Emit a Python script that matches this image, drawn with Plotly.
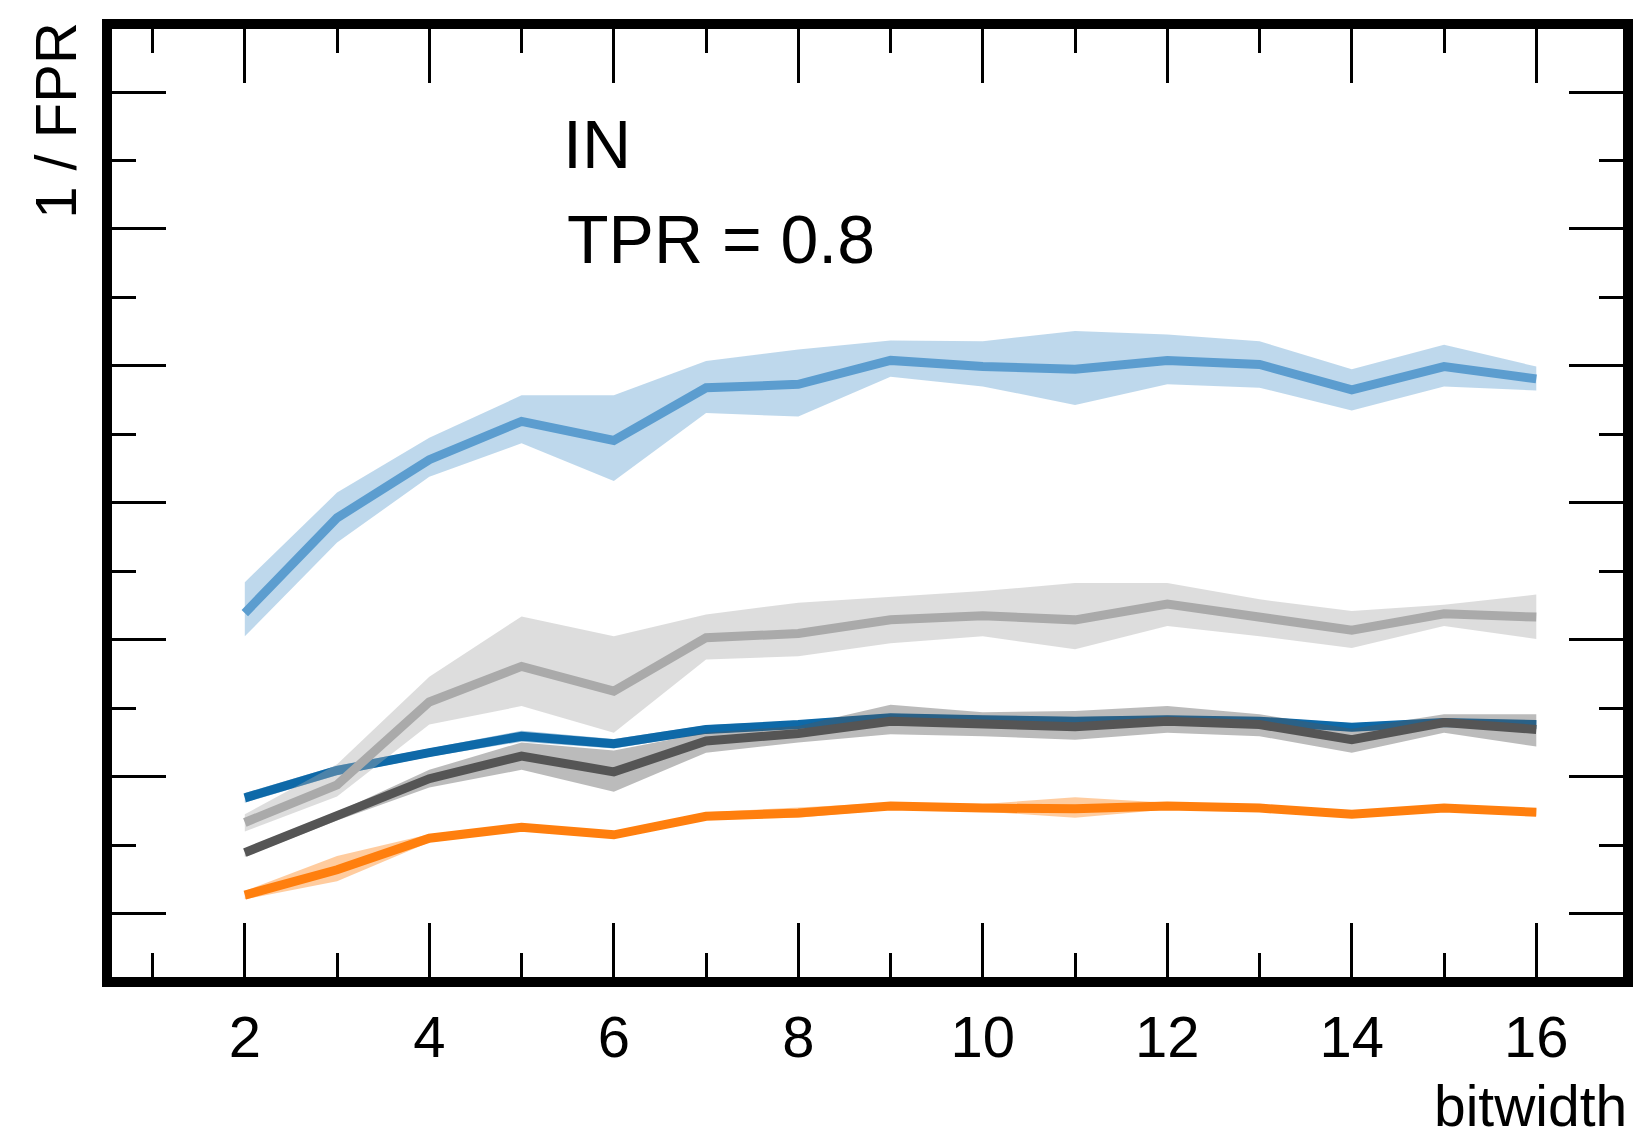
import plotly.graph_objects as go

bitwidth = list(range(2, 17))

light_blue_mean = [5.39, 6.78, 7.63, 8.19, 7.91, 8.68, 8.73, 9.08, 8.99, 8.95, 9.08, 9.02, 8.65, 8.99, 8.81]
light_blue_hi = [5.84, 7.15, 7.95, 8.57, 8.57, 9.07, 9.24, 9.37, 9.36, 9.51, 9.46, 9.36, 8.95, 9.31, 8.99]
light_blue_lo = [5.05, 6.42, 7.38, 7.87, 7.32, 8.31, 8.26, 8.84, 8.70, 8.43, 8.73, 8.68, 8.35, 8.70, 8.64]

light_gray_mean = [2.33, 2.88, 4.09, 4.61, 4.25, 5.03, 5.09, 5.29, 5.35, 5.29, 5.52, 5.33, 5.14, 5.38, 5.33]
light_gray_hi = [2.45, 3.18, 4.46, 5.34, 5.05, 5.37, 5.54, 5.62, 5.71, 5.83, 5.83, 5.59, 5.42, 5.51, 5.66]
light_gray_lo = [2.20, 2.71, 3.76, 4.03, 3.64, 4.71, 4.76, 4.95, 5.05, 4.86, 5.20, 5.05, 4.88, 5.20, 5.01]

dark_blue_mean = [2.69, 3.09, 3.35, 3.59, 3.48, 3.69, 3.76, 3.86, 3.83, 3.81, 3.83, 3.81, 3.72, 3.79, 3.76]
dark_blue_hi = [2.76, 3.16, 3.41, 3.67, 3.55, 3.75, 3.82, 3.92, 3.89, 3.87, 3.89, 3.87, 3.78, 3.85, 3.82]
dark_blue_lo = [2.62, 3.02, 3.29, 3.51, 3.41, 3.63, 3.70, 3.80, 3.77, 3.75, 3.77, 3.75, 3.66, 3.73, 3.70]

dark_gray_mean = [1.89, 2.42, 2.97, 3.30, 3.07, 3.52, 3.63, 3.81, 3.76, 3.73, 3.81, 3.76, 3.54, 3.79, 3.69]
dark_gray_hi = [1.95, 2.48, 3.10, 3.50, 3.38, 3.64, 3.74, 4.05, 3.94, 3.96, 4.03, 3.91, 3.70, 3.91, 3.91]
dark_gray_lo = [1.83, 2.36, 2.84, 3.10, 2.78, 3.35, 3.50, 3.62, 3.59, 3.54, 3.64, 3.59, 3.35, 3.64, 3.44]

orange_mean = [1.27, 1.64, 2.10, 2.26, 2.15, 2.42, 2.47, 2.57, 2.54, 2.53, 2.57, 2.54, 2.45, 2.54, 2.48]
orange_hi = [1.33, 1.84, 2.16, 2.31, 2.20, 2.48, 2.55, 2.62, 2.60, 2.70, 2.62, 2.59, 2.50, 2.59, 2.53]
orange_lo = [1.21, 1.47, 2.04, 2.21, 2.10, 2.37, 2.40, 2.52, 2.49, 2.40, 2.52, 2.49, 2.40, 2.49, 2.43]

series = [
    (orange_mean, orange_hi, orange_lo, (255, 127, 14)),
    (dark_blue_mean, dark_blue_hi, dark_blue_lo, (14, 105, 168)),
    (light_blue_mean, light_blue_hi, light_blue_lo, (92, 157, 207)),
    (light_gray_mean, light_gray_hi, light_gray_lo, (170, 170, 170)),
    (dark_gray_mean, dark_gray_hi, dark_gray_lo, (85, 85, 85)),
]

fig = go.Figure()
for mean, hi, lo, (r, g, b) in series:
    fig.add_trace(go.Scatter(
        x=bitwidth + bitwidth[::-1], y=hi + lo[::-1],
        fill="toself", fillcolor=f"rgba({r},{g},{b},0.4)",
        line=dict(width=0), mode="lines", hoverinfo="skip", showlegend=False))
    fig.add_trace(go.Scatter(
        x=bitwidth, y=mean, mode="lines",
        line=dict(color=f"rgb({r},{g},{b})", width=9), showlegend=False))

FONT = "Liberation Sans, Arial, Helvetica, sans-serif"

fig.update_layout(
    width=1643, height=1141,
    margin=dict(l=112, r=10, t=29, b=164),
    paper_bgcolor="white", plot_bgcolor="white",
    font=dict(family=FONT, size=58, color="black"),
    showlegend=False,
    xaxis=dict(
        range=[0.5602, 16.940], tick0=0, dtick=2,
        showgrid=False, zeroline=False,
        showline=True, linewidth=10, linecolor="black", mirror="allticks",
        ticks="inside", ticklen=54, tickwidth=3, tickcolor="black",
        tickfont=dict(family=FONT, size=58, color="black"),
        minor=dict(ticks="inside", ticklen=24, tickwidth=3, tickcolor="black", dtick=1, tick0=0, showgrid=False),
    ),
    yaxis=dict(
        range=[0.073, 13.921], tick0=1, dtick=2,
        showgrid=False, zeroline=False, showticklabels=False,
        showline=True, linewidth=10, linecolor="black", mirror="allticks",
        ticks="inside", ticklen=54, tickwidth=3, tickcolor="black",
        minor=dict(ticks="inside", ticklen=24, tickwidth=3, tickcolor="black", dtick=1, tick0=0, showgrid=False),
    ),
    annotations=[
        dict(text="IN", xref="paper", yref="paper", x=0.2972, y=0.8785,
             xanchor="left", yanchor="middle", showarrow=False,
             font=dict(family=FONT, size=68, color="black")),
        dict(text="TPR = 0.8", xref="paper", yref="paper", x=0.2998, y=0.7783,
             xanchor="left", yanchor="middle", showarrow=False,
             font=dict(family=FONT, size=68, color="black")),
        dict(text="bitwidth", xref="paper", yref="paper", x=1.0039, y=-0.1720,
             xanchor="right", yanchor="bottom", showarrow=False,
             font=dict(family=FONT, size=57, color="black")),
        dict(text="1 / FPR", xref="paper", yref="paper", x=-0.0375, y=0.9035,
             xanchor="center", yanchor="middle", showarrow=False, textangle=-90,
             font=dict(family=FONT, size=58, color="black")),
    ],
)

fig.write_html("out.html")
